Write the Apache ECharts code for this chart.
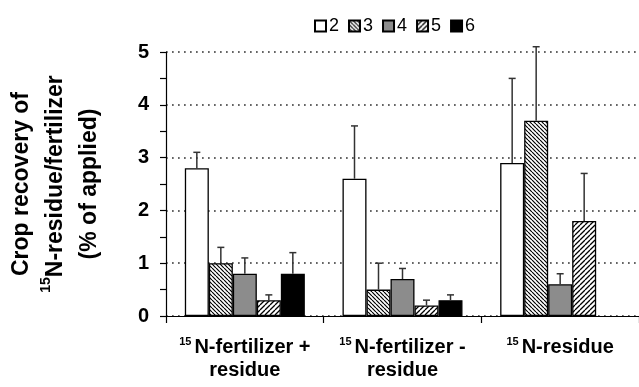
<!DOCTYPE html>
<html>
<head>
<meta charset="utf-8">
<script src="https://cdn.jsdelivr.net/npm/echarts@6/dist/echarts.min.js"></script>
<style>html,body{margin:0;padding:0;background:#fff;}#c{width:639px;height:387px;}</style>
</head>
<body>
<div id="c"></div>
<script>
// ---- data ----
const categories = ['{s|15}{b|N-fertilizer +}\n{b|residue}', '{s|15}{b|N-fertilizer -}\n{b|residue}', '{s|15}{b|N-residue}'];
const seriesNames = ['2', '3', '4', '5', '6'];
const values2 = [2.8, 2.6, 2.9];
const values3 = [1.0, 0.5, 3.7];
const values4 = [0.8, 0.7, 0.6];
const values5 = [0.3, 0.2, 1.8];
const values6 = [0.8, 0.3, null];
const errTop2 = [3.1, 3.6, 4.5];
const errTop3 = [1.3, 1.0, 5.1];
const errTop4 = [1.1, 0.9, 0.8];
const errTop5 = [0.4, 0.3, 2.7];
const errTop6 = [1.2, 0.4, null];
const yTicks = [0, 1, 2, 3, 4, 5];

const allValues = [values2, values3, values4, values5, values6];
const allErr = [errTop2, errTop3, errTop4, errTop5, errTop6];

function hatch(dir, period, lw) {
  const c = document.createElement('canvas');
  c.width = period; c.height = period;
  const g = c.getContext('2d');
  g.fillStyle = '#fff'; g.fillRect(0, 0, period, period);
  g.strokeStyle = '#000'; g.lineWidth = lw;
  g.beginPath();
  for (let k = -1; k <= 1; k++) {
    if (dir === 'back') { g.moveTo(k * period, 0); g.lineTo(k * period + period, period); }
    else { g.moveTo(k * period, period); g.lineTo(k * period + period, 0); }
  }
  g.stroke();
  return { image: c, repeat: 'repeat' };
}

const fills = [
  '#ffffff',
  hatch('back', 4, 1.2),
  '#8c8c8c',
  hatch('fwd', 5, 1.3),
  '#000000'
];

const BAR_W = 24;
const barSeries = seriesNames.map((n, i) => ({
  name: n,
  type: 'bar',
  barWidth: BAR_W,
  barGap: '0%',
  data: allValues[i],
  itemStyle: { color: fills[i], borderColor: '#000', borderWidth: 1.3 },
  z: 2
}));

const errData = [];
allErr.forEach((arr, s) => arr.forEach((v, c) => {
  if (v != null && allValues[s][c] != null) errData.push([c, s, allValues[s][c], v]);
}));

const errSeries = {
  type: 'custom',
  z: 5,
  data: errData,
  encode: { x: 0, y: [2, 3] },
  renderItem: function (params, api) {
    const c = api.value(0), s = api.value(1);
    const p0 = api.coord([c, api.value(2)]);
    const p1 = api.coord([c, api.value(3)]);
    const x = p0[0] + (s - 2) * BAR_W;
    const st = { stroke: '#333', lineWidth: 1.5 };
    return {
      type: 'group',
      children: [
        { type: 'line', shape: { x1: x, y1: p0[1], x2: x, y2: p1[1] }, style: st },
        { type: 'line', shape: { x1: x - 3.5, y1: p1[1], x2: x + 3.5, y2: p1[1] }, style: st }
      ]
    };
  }
};

const chart = echarts.init(document.getElementById('c'));
chart.setOption({
  animation: false,
  backgroundColor: '#fff',
  textStyle: { fontFamily: 'Liberation Sans' },
  legend: {
    data: seriesNames,
    left: 309, top: 12,
    itemWidth: 11, itemHeight: 11, itemGap: 9,
    icon: 'rect',
    textStyle: { fontSize: 18, color: '#000', padding: [0, 0, 0, -2] }
  },
  grid: { left: 166, top: 52, width: 477, height: 264 },
  xAxis: {
    type: 'category',
    data: categories,
    axisLine: { lineStyle: { color: '#000', width: 1.2 } },
    axisTick: { show: true, length: 7, lineStyle: { color: '#000', width: 1.2 } },
    axisLabel: {
      margin: 20,
      interval: 0,
      color: '#000',
      rich: {
        b: { fontSize: 20, fontWeight: 'bold', color: '#000', lineHeight: 23, fontFamily: 'Liberation Sans' },
        s: { fontSize: 11, fontWeight: 'bold', color: '#000', verticalAlign: 'top', lineHeight: 21, padding: [0, 3, 0, 0], fontFamily: 'Liberation Sans' }
      }
    }
  },
  yAxis: {
    type: 'value',
    min: 0, max: 5, interval: 1,
    axisLine: { show: true, lineStyle: { color: '#000', width: 1.2 } },
    axisTick: { show: true, length: 6, lineStyle: { color: '#000', width: 1.2 } },
    minorTick: { show: true, splitNumber: 2, length: 6, lineStyle: { color: '#000', width: 1.2 } },
    axisLabel: {
      margin: 17, color: '#000', fontSize: 20, fontWeight: 'bold',
      formatter: function (v) { return yTicks.indexOf(v) >= 0 ? String(v) : ''; }
    },
    splitLine: { show: true, lineStyle: { color: '#333', width: 1.7, type: [1.7, 4.3] } },
    name: '{a|Crop recovery of}\n{s|15}{a|N-residue/fertilizer}\n{a|(% of applied)}',
    nameLocation: 'middle',
    nameRotate: 90,
    nameGap: 59,
    nameTextStyle: {
      rich: {
        a: { fontSize: 23, fontWeight: 'bold', color: '#000', lineHeight: 34, fontFamily: 'Liberation Sans' },
        s: { fontSize: 14, fontWeight: 'bold', color: '#000', lineHeight: 32, verticalAlign: 'top', fontFamily: 'Liberation Sans' }
      }
    }
  },
  series: barSeries.concat([errSeries])
});
</script>
</body>
</html>
